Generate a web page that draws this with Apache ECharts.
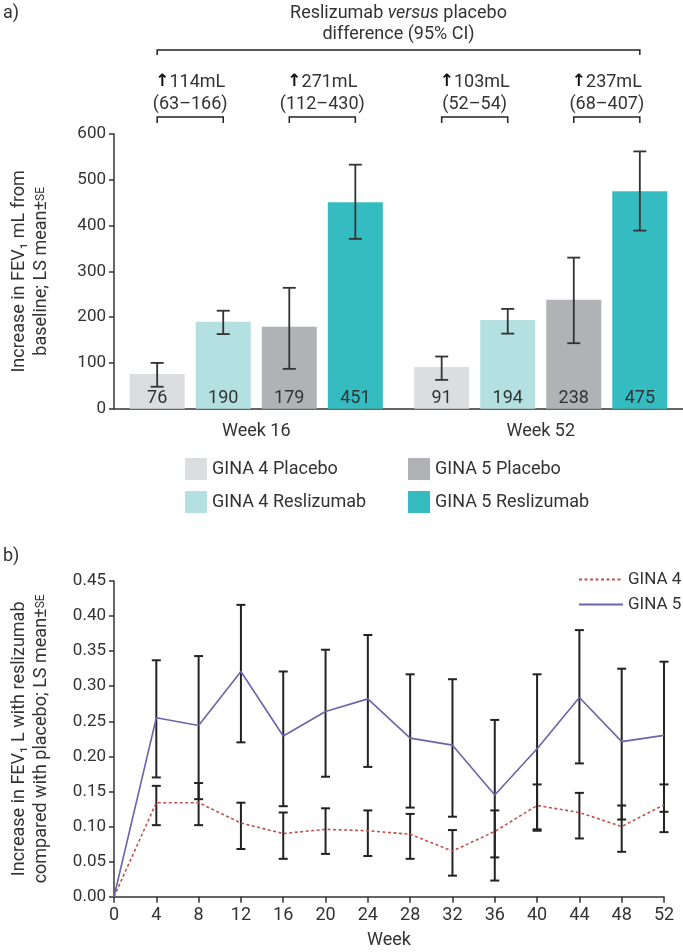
<!DOCTYPE html>
<html>
<head>
<meta charset="utf-8">
<script src="https://cdn.jsdelivr.net/npm/echarts@6/dist/echarts.min.js"></script>
<style>
html, body { margin: 0; padding: 0; background: #fff; }
#main { width: 683px; height: 952px; }
</style>
</head>
<body>
<div id="main"></div>
<script>
// ---- panel a) data
var visits = ['Week 16', 'Week 52'];
var g4Placebo = [76, 91];
var g4Resli = [190, 194];
var g5Placebo = [179, 238];
var g5Resli = [451, 475];
// mean ± SE ends [low, high]
var g4PlaceboSE = [[48, 100], [63, 114]];
var g4ResliSE = [[163, 214], [164, 218]];
var g5PlaceboSE = [[87, 264], [143, 330]];
var g5ResliSE = [[371, 533], [389, 562]];
var diffMl = ['114mL', '271mL', '103mL', '237mL'];
var diffCI = ['(63–166)', '(112–430)', '(52–54)', '(68–407)'];

// ---- panel b) data
var weeks = [0, 4, 8, 12, 16, 20, 24, 28, 32, 36, 40, 44, 48, 52];
var gina4 = [0, 0.134, 0.134, 0.105, 0.090, 0.096, 0.094, 0.089, 0.065, 0.093, 0.130, 0.120, 0.100, 0.131];
var gina4Low = [null, 0.102, 0.102, 0.068, 0.054, 0.061, 0.058, 0.054, 0.030, 0.056, 0.096, 0.083, 0.064, 0.092];
var gina4High = [null, 0.158, 0.162, 0.134, 0.120, 0.126, 0.123, 0.118, 0.095, 0.123, 0.160, 0.148, 0.130, 0.160];
var gina5 = [0, 0.255, 0.244, 0.321, 0.229, 0.264, 0.282, 0.226, 0.216, 0.145, 0.211, 0.284, 0.221, 0.230];
var gina5Low = [null, 0.170, 0.139, 0.220, 0.129, 0.171, 0.185, 0.127, 0.114, 0.023, 0.094, 0.190, 0.110, 0.121];
var gina5High = [null, 0.337, 0.343, 0.416, 0.321, 0.352, 0.373, 0.317, 0.310, 0.252, 0.317, 0.380, 0.325, 0.335];

var FONT = 'Roboto, "Open Sans", sans-serif';
var TXT = '#333';
var CAT_GAP = 0.11, BAR_GAP = 0.2, NBARS = 4;

var dom = document.getElementById('main');
var myChart = echarts.init(dom);

function pairs(se) {
    return se.map(function (d, i) { return [i, d[0], d[1]]; });
}
function weekErr(lo, hi) {
    var out = [];
    for (var i = 0; i < weeks.length; i++) {
        if (lo[i] != null) out.push([weeks[i], lo[i], hi[i]]);
    }
    return out;
}

// error bar for the k-th bar in a category group
function barErr(k) {
    return function (params, api) {
        var band = api.size([1, 0])[0];
        var bw = band * (1 - CAT_GAP) / (NBARS + (NBARS - 1) * BAR_GAP);
        var off = -band * (1 - CAT_GAP) / 2 + k * bw * (1 + BAR_GAP) + bw / 2;
        var lo = api.coord([api.value(0), api.value(1)]);
        var hi = api.coord([api.value(0), api.value(2)]);
        var x = lo[0] + off, hw = 6.5;
        var st = { stroke: '#333', lineWidth: 1.8 };
        return { type: 'group', children: [
            { type: 'line', shape: { x1: x, y1: lo[1], x2: x, y2: hi[1] }, style: st },
            { type: 'line', shape: { x1: x - hw, y1: lo[1], x2: x + hw, y2: lo[1] }, style: st },
            { type: 'line', shape: { x1: x - hw, y1: hi[1], x2: x + hw, y2: hi[1] }, style: st }
        ]};
    };
}
function lineErr(params, api) {
    var lo = api.coord([api.value(0), api.value(1)]);
    var hi = api.coord([api.value(0), api.value(2)]);
    var x = lo[0], hw = 4.5;
    var st = { stroke: '#222', lineWidth: 2 };
    return { type: 'group', children: [
        { type: 'line', shape: { x1: x, y1: lo[1], x2: x, y2: hi[1] }, style: st },
        { type: 'line', shape: { x1: x - hw, y1: lo[1], x2: x + hw, y2: lo[1] }, style: st },
        { type: 'line', shape: { x1: x - hw, y1: hi[1], x2: x + hw, y2: hi[1] }, style: st }
    ]};
}

var barLabel = {
    show: true, position: 'insideBottom', distance: 1,
    color: TXT, fontSize: 18, fontFamily: FONT
};
function barSeries(name, data, color) {
    return {
        name: name, type: 'bar', xAxisIndex: 0, yAxisIndex: 0,
        data: data, barGap: (BAR_GAP * 100) + '%', barCategoryGap: (CAT_GAP * 100) + '%',
        itemStyle: { color: color }, label: barLabel, z: 2
    };
}
function errSeries(k, se) {
    return {
        type: 'custom', xAxisIndex: 0, yAxisIndex: 0,
        renderItem: barErr(k), data: pairs(se), z: 4, silent: true
    };
}

var legendText = { color: TXT, fontSize: 18, fontFamily: FONT };

option = {
    animation: false,
    textStyle: { fontFamily: FONT },
    grid: [
        { left: 108, right: 0, top: 134, height: 274.7 },
        { left: 110, right: 19, top: 581, height: 315.7 }
    ],
    legend: [
        { orient: 'vertical', left: 185, top: 458, itemWidth: 22, itemHeight: 22, itemGap: 11,
          icon: 'rect', textStyle: legendText, padding: 0,
          data: ['GINA 4 Placebo', 'GINA 4 Reslizumab'] },
        { orient: 'vertical', left: 408, top: 458, itemWidth: 22, itemHeight: 22, itemGap: 11,
          icon: 'rect', textStyle: legendText, padding: 0,
          data: ['GINA 5 Placebo', 'GINA 5 Reslizumab'] },
        { orient: 'vertical', left: 578, top: 571, itemWidth: 44, itemHeight: 12, itemGap: 8,
          itemStyle: { opacity: 0 },
          textStyle: { color: TXT, fontSize: 17, fontFamily: FONT }, padding: 0,
          data: ['GINA 4', 'GINA 5'] }
    ],
    xAxis: [
        {
            type: 'category', gridIndex: 0, data: visits,
            axisLine: { lineStyle: { color: '#333', width: 1.5 } },
            axisTick: { show: false },
            axisLabel: { color: TXT, fontSize: 18, margin: 14 }
        },
        {
            type: 'value', gridIndex: 1, min: 0, max: 52, interval: 4,
            name: 'Week', nameLocation: 'middle', nameGap: 35,
            nameTextStyle: { color: TXT, fontSize: 18 },
            axisLine: { show: true, lineStyle: { color: '#333', width: 1.5 } },
            axisTick: { show: true, length: 6, lineStyle: { color: '#333', width: 1.5 } },
            axisLabel: { color: TXT, fontSize: 18, margin: 10 },
            splitLine: { show: false }
        }
    ],
    yAxis: [
        {
            type: 'value', gridIndex: 0, min: 0, max: 600, interval: 100,
            name: 'Increase in FEV\u2081 mL from\nbaseline; LS mean\u00b1{s|SE}',
            nameLocation: 'middle', nameGap: 62, nameRotate: 90,
            nameTextStyle: { color: TXT, fontSize: 18, lineHeight: 22, align: 'center',
                rich: { s: { fontSize: 12, color: TXT } } },
            axisLine: { show: true, lineStyle: { color: '#333', width: 1.5 } },
            axisTick: { show: true, length: 5, lineStyle: { color: '#333', width: 1.5 } },
            axisLabel: { color: TXT, fontSize: 17, margin: 8 },
            splitLine: { show: false }
        },
        {
            type: 'value', gridIndex: 1, min: 0, max: 0.45, interval: 0.05,
            name: 'Increase in FEV\u2081 L with reslizumab\ncompared with placebo; LS mean\u00b1{s|SE}',
            nameLocation: 'middle', nameGap: 62, nameRotate: 90,
            nameTextStyle: { color: TXT, fontSize: 18, lineHeight: 22, align: 'center',
                rich: { s: { fontSize: 12, color: TXT } } },
            axisLine: { show: true, lineStyle: { color: '#333', width: 1.5 } },
            axisTick: { show: true, length: 5, lineStyle: { color: '#333', width: 1.5 } },
            axisLabel: { color: TXT, fontSize: 17, margin: 8,
                formatter: function (v) { return v.toFixed(2); } },
            splitLine: { show: false }
        }
    ],
    series: [
        barSeries('GINA 4 Placebo', g4Placebo, '#dcdddf'),
        barSeries('GINA 4 Reslizumab', g4Resli, '#b4e0e2'),
        barSeries('GINA 5 Placebo', g5Placebo, '#b1b2b6'),
        barSeries('GINA 5 Reslizumab', g5Resli, '#34bcc1'),
        errSeries(0, g4PlaceboSE),
        errSeries(1, g4ResliSE),
        errSeries(2, g5PlaceboSE),
        errSeries(3, g5ResliSE),
        {
            type: 'custom', xAxisIndex: 1, yAxisIndex: 1, renderItem: lineErr,
            data: weekErr(gina5Low, gina5High), z: 2, silent: true
        },
        {
            type: 'custom', xAxisIndex: 1, yAxisIndex: 1, renderItem: lineErr,
            data: weekErr(gina4Low, gina4High), z: 2, silent: true
        },
        {
            name: 'GINA 4', type: 'line', xAxisIndex: 1, yAxisIndex: 1,
            data: weeks.map(function (w, i) { return [w, gina4[i]]; }),
            symbol: 'none', z: 3,
            itemStyle: { color: '#c0504d' },
            lineStyle: { color: '#c0504d', width: 1.6, type: [3, 2.5] }
        },
        {
            name: 'GINA 5', type: 'line', xAxisIndex: 1, yAxisIndex: 1,
            data: weeks.map(function (w, i) { return [w, gina5[i]]; }),
            symbol: 'none', z: 3,
            itemStyle: { color: '#6a64a9' },
            lineStyle: { color: '#6a64a9', width: 1.6 }
        }
    ]
};

if (option && typeof option === "object") {
    myChart.setOption(option, true);
}

// ---- bracket annotations over panel a), placed from the bar layout
var c0 = myChart.convertToPixel({ xAxisIndex: 0 }, 0);
var c1 = myChart.convertToPixel({ xAxisIndex: 0 }, 1);
var band = c1 - c0;
var bw = band * (1 - CAT_GAP) / (NBARS + (NBARS - 1) * BAR_GAP);
function barX(cat, k) {
    var c = cat === 0 ? c0 : c1;
    return c - band * (1 - CAT_GAP) / 2 + k * bw * (1 + BAR_GAP) + bw / 2;
}
function bracket(xa, xb, y, drop) {
    return { type: 'polyline', shape: { points: [[xa, y + drop], [xa, y], [xb, y], [xb, y + drop]] },
             style: { stroke: '#222', lineWidth: 1.5, fill: null } };
}
function txt(s, x, y, size, align, rich) {
    return { type: 'text', style: { text: s, x: x, y: y, fill: TXT, fontSize: size, fontFamily: FONT,
             textAlign: align || 'center', textVerticalAlign: 'middle', rich: rich } };
}

var xL = barX(0, 0), xR = barX(1, 3);
var els = [
    txt('a)', 3, 13, 18, 'left'),
    txt('b)', 3, 556, 18, 'left'),
    txt('Reslizumab {i|versus} placebo', (xL + xR) / 2, 13, 18, 'center',
        { i: { fontStyle: 'italic', fontSize: 18, fontFamily: FONT, fill: TXT } }),
    txt('difference (95% CI)', (xL + xR) / 2, 34, 18),
    bracket(xL, xR, 50, 5)
];
for (var i = 0; i < 4; i++) {
    var cat = i < 2 ? 0 : 1;
    var k = (i % 2) * 2;
    var xa = barX(cat, k), xb = barX(cat, k + 1);
    var mid = (xa + xb) / 2;
    els.push(txt('{a|\u2191}' + diffMl[i], mid, 82, 18, 'center',
        { a: { fontSize: 17, fontWeight: 'bold', fontFamily: 'DejaVu Sans', fill: '#111' } }));
    els.push(txt(diffCI[i], mid, 104, 18));
    els.push(bracket(xa, xb, 117, 6));
}
myChart.setOption({ graphic: { elements: els } });
</script>
</body>
</html>
